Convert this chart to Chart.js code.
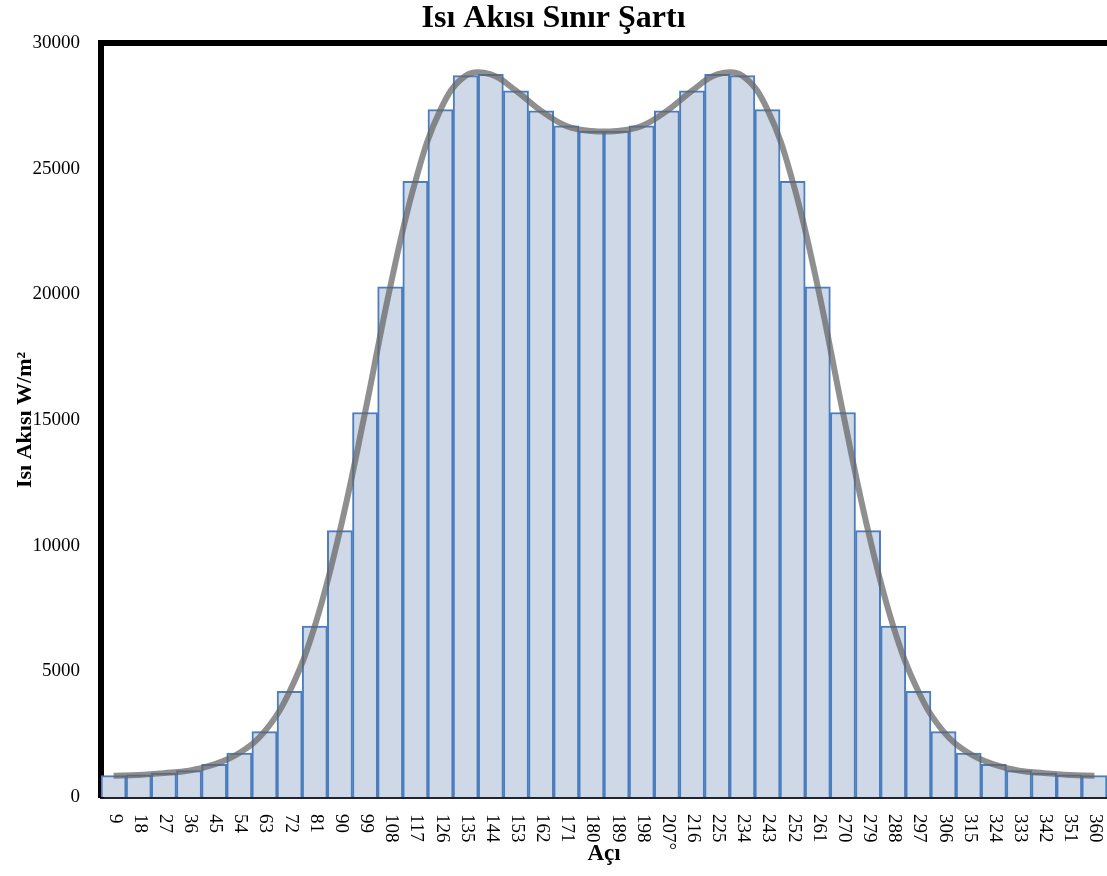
<!DOCTYPE html>
<html>
<head>
<meta charset="utf-8">
<script src="https://cdn.jsdelivr.net/npm/chart.js@4"></script>
<style>
  html, body { margin: 0; padding: 0; background: #ffffff; }
  #wrap { width: 1107px; height: 876px; }
</style>
</head>
<body>
<div id="wrap"><canvas id="c" width="1107" height="876"></canvas></div>
<script>
const categories = ["9","18","27","36","45","54","63","72","81","90","99","108","117","126","135","144","153","162","171","180","189","198","207°","216","225","234","243","252","261","270","279","288","297","306","315","324","333","342","351","360"];
const heatFlux = [850, 880, 950, 1050, 1300, 1750, 2600, 4200, 6800, 10600, 15300, 20300, 24500, 27350, 28700, 28750, 28100, 27300, 26700, 26500, 26500, 26700, 27300, 28100, 28750, 28700, 27350, 24500, 20300, 15300, 10600, 6800, 4200, 2600, 1750, 1300, 1050, 950, 880, 850];
const smoothCurve = [850, 880, 950, 1050, 1300, 1750, 2600, 4200, 6800, 10600, 15300, 20300, 24500, 27350, 28700, 28750, 28100, 27300, 26700, 26500, 26500, 26700, 27300, 28100, 28750, 28700, 27350, 24500, 20300, 15300, 10600, 6800, 4200, 2600, 1750, 1300, 1050, 950, 880, 850];
const yMin = 0, yMax = 30000, yStep = 5000;

const SERIF = '"Liberation Serif", "Times New Roman", serif';

const rotatedLabels = {
  id: 'rotatedLabels',
  afterDraw(chart) {
    const sc = chart.scales.x;
    const ctx = chart.ctx;
    ctx.save();
    ctx.fillStyle = '#000';
    ctx.font = '19px ' + SERIF;
    ctx.textAlign = 'left';
    ctx.textBaseline = 'middle';
    sc.ticks.forEach((t, i) => {
      const x = sc.getPixelForTick(i);
      ctx.save();
      ctx.translate(x + 1, sc.top + 17);
      ctx.rotate(Math.PI / 2);
      ctx.fillText(categories[i], 0, 0);
      ctx.restore();
    });
    ctx.restore();
  }
};

new Chart(document.getElementById('c'), {
  data: {
    labels: categories,
    datasets: [
      {
        type: 'line',
        label: 'Eğri',
        data: smoothCurve,
        borderColor: 'rgba(100,100,100,0.72)',
        borderWidth: 6,
        pointRadius: 0,
        tension: 0.4,
        fill: false,
        order: 0
      },
      {
        type: 'bar',
        label: 'Isı Akısı',
        data: heatFlux,
        backgroundColor: 'rgb(207,216,230)',
        borderColor: 'rgb(74,126,190)',
        borderWidth: 2,
        categoryPercentage: 1.0,
        barPercentage: 1.0,
        order: 1
      }
    ]
  },
  options: {
    responsive: false,
    animation: false,
    devicePixelRatio: 1,
    layout: { padding: 0 },
    plugins: {
      legend: { display: false },
      tooltip: { enabled: false },
      title: {
        display: true,
        text: 'Isı Akısı Sınır Şartı',
        color: '#000',
        font: { family: SERIF, size: 32, weight: 'bold' },
        padding: { top: 0, bottom: 4.6 }
      }
    },
    scales: {
      x: {
        position: 'bottom',
        offset: true,
        grid: { display: false, drawTicks: false },
        border: { display: true, color: '#1f2430', width: 3 },
        ticks: { display: false },
        title: {
          display: true,
          text: 'Açı',
          color: '#000',
          font: { family: SERIF, size: 23, weight: 'bold' },
          padding: { top: 0, bottom: 8 }
        },
        afterFit(scale) { scale.height = 79; }
      },
      xTop: {
        position: 'top',
        type: 'category',
        labels: categories,
        grid: { display: false, drawTicks: false },
        border: { display: true, color: '#000', width: 6 },
        ticks: { display: false },
        afterFit(scale) { scale.height = 0; }
      },
      y: {
        min: yMin,
        max: yMax,
        grid: { display: false, drawTicks: false },
        border: { display: true, color: '#000', width: 6 },
        ticks: {
          stepSize: yStep,
          color: '#000',
          padding: 21,
          font: { family: SERIF, size: 19 },
          callback: (v) => String(v)
        },
        title: {
          display: true,
          text: 'Isı Akısı W/m²',
          color: '#000',
          font: { family: SERIF, size: 22, weight: 'bold' },
          padding: { top: 12, bottom: -50 }
        },
        afterFit(scale) { scale.width = 101; }
      }
    }
  },
  plugins: [rotatedLabels]
});
</script>
</body>
</html>
